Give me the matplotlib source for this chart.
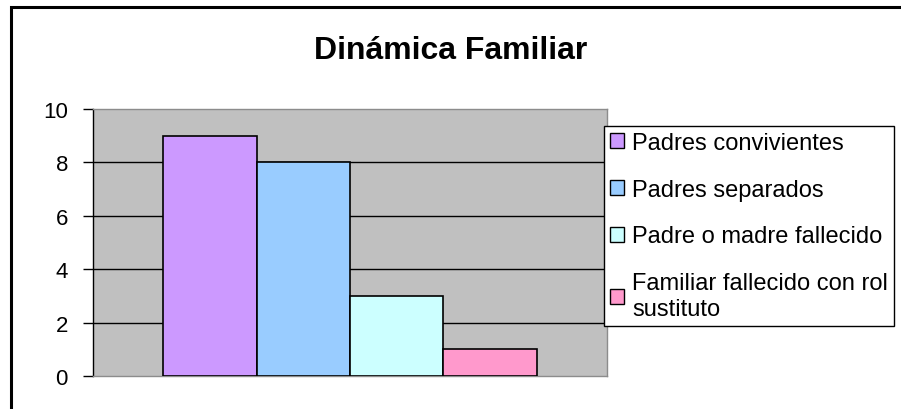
import matplotlib
matplotlib.use("Agg")
import matplotlib.pyplot as plt
from matplotlib.patches import Rectangle
import numpy as np

# ── Datos ─────────────────────────────────────────────────────────────────────
categorias = ['Padres convivientes', 'Padres separados',
              'Padre o madre fallecido', 'Familiar fallecido con rol\nsustituto']
valores = [9, 8, 3, 1]
colores = ['#CC99FF', '#99CCFF', '#CCFFFF', '#FF99CC']
titulo = 'Dinámica Familiar'
yticks = [0, 2, 4, 6, 8, 10]

plt.rcParams['font.family'] = ['Liberation Sans', 'DejaVu Sans']

fig = plt.figure(figsize=(9.01, 4.10), dpi=100)
fig.patch.set_facecolor('white')

# marco exterior (sale por la derecha y por abajo)
fig.add_artist(Rectangle((11 / 901, -0.05), 1.0, (410 - 8) / 410 + 0.05,
                         transform=fig.transFigure, fill=False,
                         edgecolor='black', linewidth=2.2, clip_on=False))

ax = fig.add_axes([93 / 901, 33 / 410, 514 / 901, 267 / 410])
ax.set_facecolor('#C0C0C0')

# grupo de barras al estilo Excel (ancho de separación 150 %)
n = len(valores)
ancho = 1 / (n + 1.5)
xs = (np.arange(n) - (n - 1) / 2) * ancho
for x, v, c, lab in zip(xs, valores, colores, categorias):
    ax.bar(x, v, width=ancho, color=c, edgecolor='black', linewidth=1.2,
           label=lab, zorder=3)

ax.set_xlim(-0.5, 0.5)
ax.set_ylim(0, 10)
ax.set_yticks(yticks)
ax.set_xticks([])
for y in yticks[1:-1]:
    ax.axhline(y, color='black', linewidth=1.0, zorder=1)

for s in ['top', 'right', 'bottom']:
    ax.spines[s].set_color('#8C8C8C')
    ax.spines[s].set_linewidth(1.0)
ax.spines['left'].set_color('black')
ax.spines['left'].set_linewidth(1.0)
ax.tick_params(axis='y', direction='out', length=7, width=1.0,
               labelsize=16, pad=11, colors='black')

fig.text(0.5, 1 - 51 / 410, titulo, ha='center', va='center',
         fontsize=23, fontweight='bold')

leg = ax.legend(loc='upper left', bbox_to_anchor=(604 / 901, 1 - 127 / 410),
                bbox_transform=fig.transFigure, borderaxespad=0,
                fontsize=17, frameon=True, fancybox=False, framealpha=1,
                edgecolor='black', handlelength=0.6, handleheight=0.6,
                handletextpad=0.35, labelspacing=1.05, borderpad=0.25)
leg.get_frame().set_linewidth(1.0)
for h in leg.legend_handles:
    h.set_linewidth(1.0)

fig.savefig('out.png', dpi=100, facecolor='white')
